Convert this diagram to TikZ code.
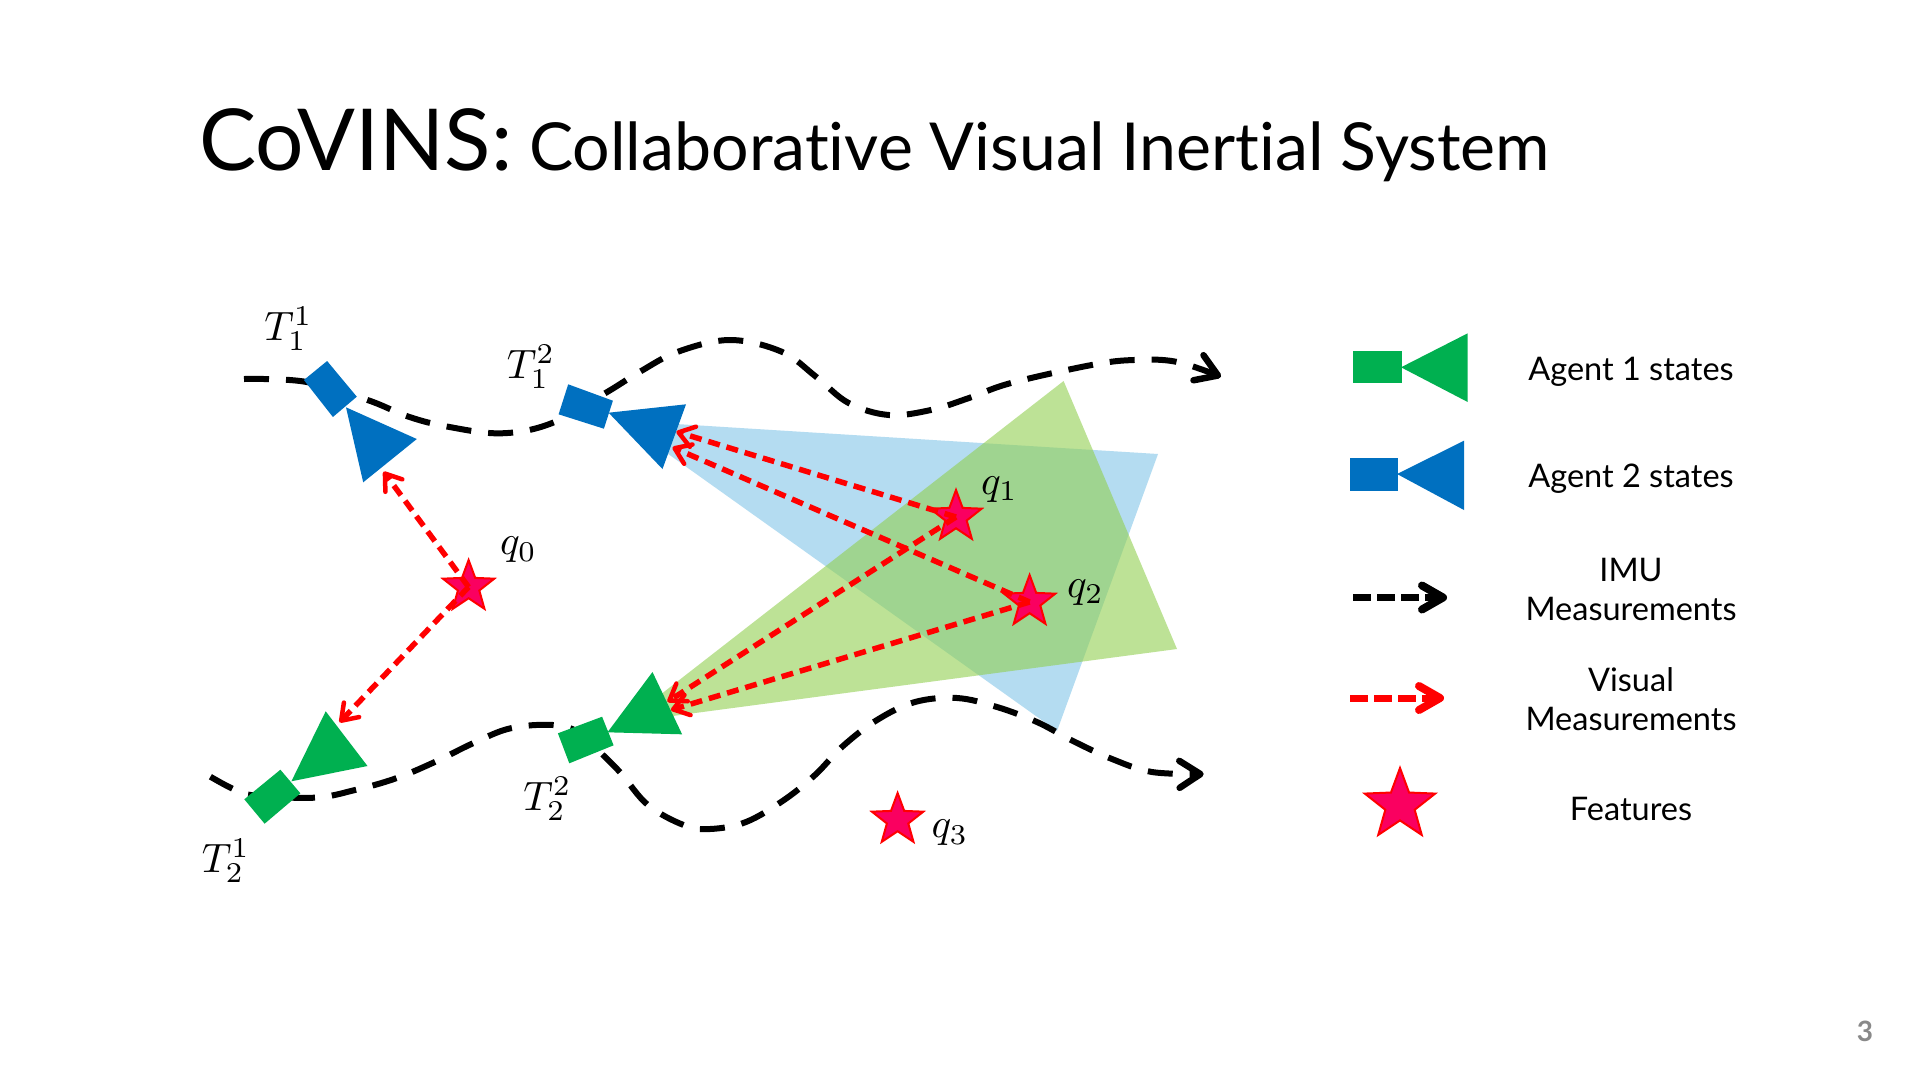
\documentclass[tikz,border=0pt]{standalone}
\usepackage{fontspec}
\setmainfont{Lato}[Ligatures=NoCommon]
\usetikzlibrary{shapes.geometric,arrows.meta}
\definecolor{agentblue}{HTML}{0070C0}
\definecolor{agentgreen}{HTML}{00B050}
\definecolor{fovblue}{HTML}{B4DCF1}
\definecolor{fovgreen}{HTML}{92D050}
\definecolor{starfill}{HTML}{FA0060}
\definecolor{pagegray}{HTML}{898989}
\tikzset{
  imu/.style={black,line width=6pt,dash pattern=on 25pt off 17pt,-{Straight Barb[round,length=21pt,width=27pt,line width=6.5pt]}},
  vis/.style={red,line width=5.5pt,dash pattern=on 12pt off 7pt},
  visarrow/.style={vis,-{Straight Barb[round,length=15pt,width=21pt,line width=4.5pt]}},
  legendarrow/.style={line width=7pt,dash pattern=on 18pt off 6pt,-{Straight Barb[round,length=21pt,width=24pt,line width=8pt]}},
  feature/.style={star,star points=5,star point ratio=2.4,fill=starfill,draw=red,line width=2pt,inner sep=0pt,outer sep=0pt,minimum size=#1},
  feature/.default=54pt,
  mathlabel/.style={inner sep=0pt,scale=4.1},
  legendtext/.style={font=\fontsize{32.5}{39}\selectfont,align=center,inner sep=0pt},
}
\begin{document}
\begin{tikzpicture}[x=1pt,y=-1pt]
\useasboundingbox (0,0) rectangle (1920,1080);
\fill[white] (0,0) rectangle (1920,1080);
% title
\node[anchor=base west,inner sep=0pt,font=\fontsize{85.5}{86}\selectfont] (t1) at (199,170) {CoVINS:};
\node[anchor=base west,inner sep=0pt,font=\fontsize{66.2}{67}\selectfont] (t2) at (529,170) {Collaborative Visual Inertial System};
\node[font=\fontsize{28}{28}\selectfont\bfseries,text=pagegray,inner sep=0pt] (pg) at (1865,1031) {3};
% fields of view
\fill[fovblue] (1158,454) -- (1057,731) -- (650,441) -- (660,423) -- cycle;
\fill[fovgreen,fill opacity=0.6] (1063.6,381) -- (1177,649) -- (665,717) -- (660,695) -- cycle;
% IMU trajectories
\draw[imu] plot[smooth,tension=0.6] coordinates {(244,379) (305,381.7) (367.5,400) (408.6,416.7) (447.9,426.7) (501.4,433.3) (551.4,423.3) (605,393.3) (640,371.7) (678,351.7) (730,340) (781.6,351.7) (816,376.7) (848.6,403) (888.8,415) (930.9,410) (969,398) (1011,383) (1091.6,365) (1133.7,360) (1175.8,361.7) (1221,376.7)};
\draw[imu] plot[smooth,tension=0.6] coordinates {(210.4,776.7) (231.8,788.3) (251,795) (314,797.7) (355,790) (396,778.3) (435.4,761.7) (472.9,743.3) (510.4,728.3) (553,725) (580,733) (603,755) (621,773.3) (647.9,805) (683.6,825) (710,829) (746,822) (784,800) (815,775) (843,746) (877,720) (915,702) (957,698) (997,707) (1037,722) (1073,741) (1112,759) (1152,772) (1203.7,774)};
% agent 2 states
\fill[agentblue] (327.1,361) -- (356.8,396.7) -- (332.9,417) -- (303.9,380) -- cycle;
\fill[agentblue] (346,407.3) -- (416.8,439) -- (363.2,482.3) -- cycle;
\fill[agentblue] (568.2,384.3) -- (612.9,400.7) -- (603.9,428.7) -- (558.6,414.3) -- cycle;
\fill[agentblue] (608.6,412.7) -- (686,404.3) -- (662.5,469) -- cycle;
% agent 1 states
\fill[agentgreen] (280.4,769.7) -- (300.4,793.3) -- (264.6,823.7) -- (244.3,799.3) -- cycle;
\fill[agentgreen] (325.7,711.3) -- (367.5,766) -- (291.4,781.3) -- cycle;
\fill[agentgreen] (602.1,716.7) -- (613.6,745.3) -- (569.3,763.3) -- (557.9,733.3) -- cycle;
\fill[agentgreen] (652.5,672) -- (682.1,734.3) -- (607.5,732.3) -- cycle;
% features
\node[feature] (q0) at (468.6,587) {};
\node[feature] (q1) at (956,517) {};
\node[feature] (q2) at (1029.6,602) {};
\node[feature] (q3) at (897.6,820) {};
% ends of measurements
\coordinate (bl) at (383.6,471.7);
\coordinate (gl) at (339.6,722.3);
\coordinate (br1) at (676.4,431.7);
\coordinate (br2) at (672.5,447.3);
\coordinate (gr1) at (667.5,701.7);
\coordinate (gr2) at (671,710);
\draw[visarrow] (q0.center) -- (bl);
\draw[visarrow] (q0.center) -- (gl);
\draw[visarrow] (q1.center) -- (br1);
\draw[visarrow] (q2.center) -- (br2);
\draw[visarrow] (q1.center) -- (gr1);
\draw[visarrow] (q2.center) -- (gr2);
% math labels
\node[mathlabel] (T11) at (288.5,329) {$T_1^1$};
\node[mathlabel] (T12) at (531,367) {$T_1^2$};
\node[mathlabel] (T21) at (226,861) {$T_2^1$};
\node[mathlabel] (T22) at (547.5,799) {$T_2^2$};
\node[mathlabel] (lq0) at (518.5,550) {$q_0$};
\node[mathlabel] (lq1) at (999.5,490) {$q_1$};
\node[mathlabel] (lq2) at (1085.5,593) {$q_2$};
\node[mathlabel] (lq3) at (950,833) {$q_3$};
% legend
\fill[agentgreen] (1353.3,350.7) rectangle (1401.7,382.7);
\fill[agentgreen] (1401,367.3) -- (1467.7,333.3) -- (1467.7,402) -- cycle;
\fill[agentblue] (1350,458.3) rectangle (1397.7,490.7);
\fill[agentblue] (1397,474) -- (1464,440.7) -- (1464,510) -- cycle;
\coordinate (ia) at (1353,597.5); \coordinate (ib) at (1447,597.5);
\coordinate (va) at (1350,698); \coordinate (vb) at (1444,698);
\draw[black,legendarrow] (ia) -- (ib);
\draw[red,legendarrow] (va) -- (vb);
\node[feature=74pt] (fs) at (1400,805) {};
\node[legendtext] (l1) at (1631,372) {Agent 1 states};
\node[legendtext] (l2) at (1631,479) {Agent 2 states};
\node[legendtext] (l3) at (1631,589) {IMU\\Measurements};
\node[legendtext] (l4) at (1631,699) {Visual\\Measurements};
\node[legendtext] (l5) at (1631,809) {Features};
\end{tikzpicture}
\end{document}
